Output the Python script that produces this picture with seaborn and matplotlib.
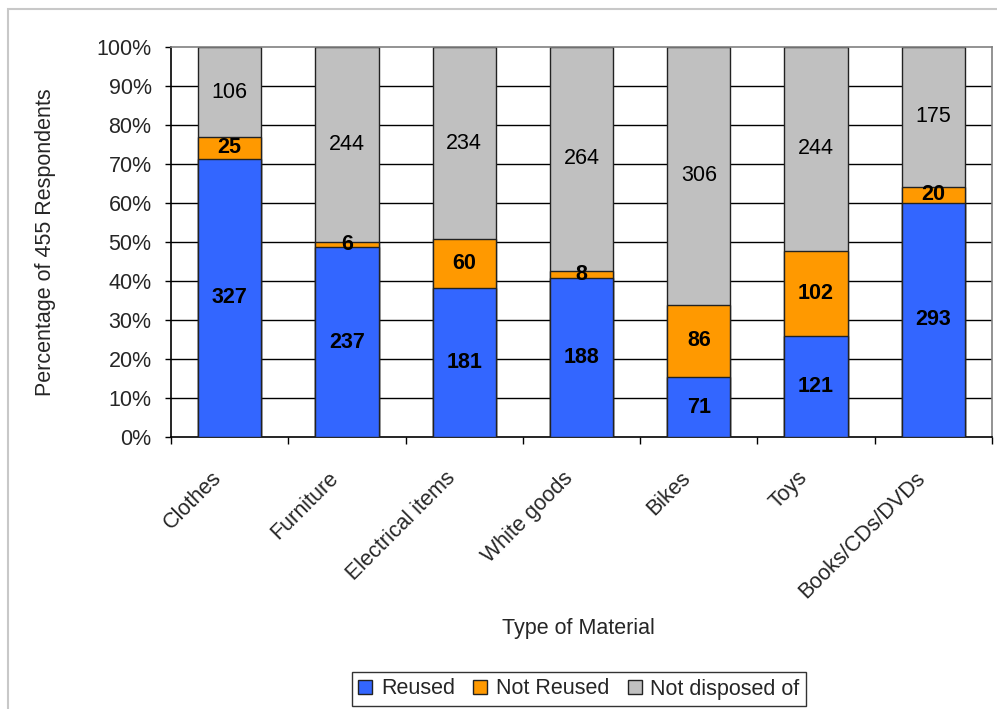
import numpy as np
import pandas as pd
import matplotlib
matplotlib.use("Agg")
import matplotlib.pyplot as plt
from matplotlib.patches import Rectangle, Patch
from matplotlib.ticker import FixedLocator, PercentFormatter
from matplotlib.transforms import ScaledTranslation
import seaborn as sns

categories = ["Clothes", "Furniture", "Electrical items", "White goods",
              "Bikes", "Toys", "Books/CDs/DVDs"]
reused = [327, 237, 181, 188, 71, 121, 293]
not_reused = [25, 6, 60, 8, 86, 102, 20]
not_disposed = [106, 244, 234, 264, 306, 244, 175]
series_names = ["Reused", "Not Reused", "Not disposed of"]
colors = ["#3366FF", "#FF9900", "#C0C0C0"]

sns.set_theme(style="white")
plt.rcParams["font.family"] = ["Liberation Sans", "DejaVu Sans"]
FS = 15.5

df = pd.DataFrame({"cat": categories, "r": reused, "n": not_reused, "d": not_disposed})
total = df["r"] + df["n"] + df["d"]
df["p_r"] = df["r"] / total * 100
df["p_n"] = df["n"] / total * 100
df["p_d"] = df["d"] / total * 100
df["top_n"] = df["p_r"] + df["p_n"]
df["top_d"] = df["top_n"] + df["p_d"]

fig = plt.figure(figsize=(9.97, 7.09), dpi=100)
fig.patches.append(Rectangle((8 / 997, -0.1), 1.2, 1 - 9 / 709 + 0.1,
                             transform=fig.transFigure, fill=False,
                             edgecolor="#C8C8C8", linewidth=1.5, zorder=0))
ax = fig.add_axes([171 / 997, 1 - 437 / 709, 821 / 997, 390 / 709])

# horizontal gridlines drawn below the bars
for v in range(10, 100, 10):
    ax.axhline(v, color="black", linewidth=1.0, zorder=0)

bar_kw = dict(width=0.54, edgecolor="#222222", linewidth=1.0, saturation=1)
sns.barplot(data=df, x="cat", y="top_d", color=colors[2], ax=ax, zorder=2, **bar_kw)
sns.barplot(data=df, x="cat", y="top_n", color=colors[1], ax=ax, zorder=3, **bar_kw)
sns.barplot(data=df, x="cat", y="p_r", color=colors[0], ax=ax, zorder=4, **bar_kw)

# value labels centred in each segment
for i, row in df.iterrows():
    ax.text(i, row["p_r"] / 2, f"{row['r']}", ha="center", va="center",
            fontsize=FS, fontweight="bold", color="black", zorder=6)
    ax.text(i, row["p_r"] + row["p_n"] / 2, f"{row['n']}", ha="center", va="center",
            fontsize=FS, fontweight="bold", color="black", zorder=6)
    ax.text(i, row["top_n"] + row["p_d"] / 2, f"{row['d']}", ha="center", va="center",
            fontsize=FS, color="black", zorder=6)

ax.set_xlim(-0.5, len(categories) - 0.5)
ax.set_ylim(0, 100)
ax.yaxis.set_major_locator(FixedLocator(np.arange(0, 101, 10)))
ax.yaxis.set_major_formatter(PercentFormatter(decimals=0))
ax.tick_params(axis="y", which="major", direction="out", length=4.5, width=1,
               color="black", labelsize=FS, pad=9.5, left=True)

# category tick marks sit between bars
ax.set_xticks(np.arange(len(categories)))
ax.set_xticklabels(categories, rotation=45, ha="right", rotation_mode="anchor",
                   fontsize=FS)
ax.tick_params(axis="x", which="major", length=0, pad=14)
ax.set_xticks(np.arange(-0.5, len(categories)), minor=True)
ax.tick_params(axis="x", which="minor", direction="out", length=5, width=1,
               color="black", bottom=True)
shift = ScaledTranslation(-19 / 100, -11 / 100, fig.dpi_scale_trans)
for lbl in ax.get_xticklabels():
    lbl.set_transform(lbl.get_transform() + shift)

for side in ["left", "bottom"]:
    ax.spines[side].set_color("black")
    ax.spines[side].set_linewidth(1.2)
for side in ["top", "right"]:
    ax.spines[side].set_color("#808080")
    ax.spines[side].set_linewidth(1.2)

ax.set_xlabel("Type of Material", fontsize=FS)
ax.xaxis.set_label_coords((578 - 171) / 821, -(628 - 437) / 390, transform=ax.transAxes)
ax.xaxis.label.set_va("center")
ax.set_ylabel("Percentage of 455 Respondents", fontsize=FS)
ax.yaxis.set_label_coords(-(171 - 45) / 821, 0.5)
ax.yaxis.label.set_va("center")

handles = [Patch(facecolor=c, edgecolor="#222222", linewidth=1.0) for c in colors]
leg = fig.legend(handles, series_names, loc="center", ncol=3,
                 bbox_to_anchor=(579 / 997, 1 - 689 / 709), fontsize=FS,
                 frameon=True, fancybox=False, edgecolor="black",
                 handlelength=0.65, handleheight=0.65, handletextpad=0.4,
                 columnspacing=0.85, borderpad=0.3, borderaxespad=0)
leg.get_frame().set_linewidth(1.0)

fig.savefig("out.png", dpi=100, facecolor="white")
